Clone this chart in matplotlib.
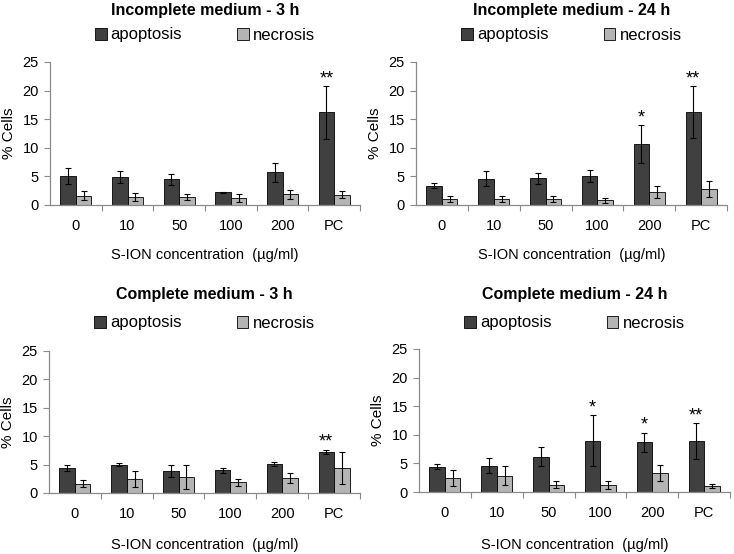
import matplotlib
matplotlib.use("Agg")
import matplotlib.pyplot as plt
from matplotlib.patches import Patch
import numpy as np

plt.rcParams['font.family'] = ['Liberation Sans', 'DejaVu Sans']

categories = ["0", "10", "50", "100", "200", "PC"]
series_names = ["apoptosis", "necrosis"]
titles = ["Incomplete medium - 3 h", "Incomplete medium - 24 h",
          "Complete medium - 3 h", "Complete medium - 24 h"]

# Incomplete medium - 3 h
inc3_apop = [5.1, 4.9, 4.5, 2.2, 5.7, 16.2]
inc3_apop_err = [1.45, 1.1, 1.0, 0.1, 1.7, 4.6]
inc3_nec = [1.6, 1.4, 1.4, 1.15, 1.85, 1.8]
inc3_nec_err = [0.8, 0.75, 0.6, 0.7, 0.8, 0.65]
inc3_stars = ["", "", "", "", "", "**"]

# Incomplete medium - 24 h
inc24_apop = [3.4, 4.6, 4.7, 5.1, 10.6, 16.3]
inc24_apop_err = [0.4, 1.35, 0.95, 1.05, 3.3, 4.5]
inc24_nec = [1.05, 1.05, 1.0, 0.8, 2.2, 2.8]
inc24_nec_err = [0.55, 0.55, 0.5, 0.5, 1.05, 1.35]
inc24_stars = ["", "", "", "", "*", "**"]

# Complete medium - 3 h
com3_apop = [4.4, 5.0, 3.9, 4.0, 5.1, 7.2]
com3_apop_err = [0.45, 0.3, 1.0, 0.45, 0.4, 0.4]
com3_nec = [1.65, 2.45, 2.8, 1.9, 2.7, 4.45]
com3_nec_err = [0.6, 1.4, 2.05, 0.65, 0.9, 2.8]
com3_stars = ["", "", "", "", "", "**"]

# Complete medium - 24 h
com24_apop = [4.45, 4.6, 6.2, 9.0, 8.7, 8.9]
com24_apop_err = [0.4, 1.3, 1.65, 4.4, 1.65, 3.1]
com24_nec = [2.45, 2.85, 1.3, 1.2, 3.35, 1.0]
com24_nec_err = [1.45, 1.7, 0.65, 0.7, 1.45, 0.35]
com24_stars = ["", "", "", "*", "*", "**"]

panels = [
    (inc3_apop, inc3_apop_err, inc3_nec, inc3_nec_err, inc3_stars),
    (inc24_apop, inc24_apop_err, inc24_nec, inc24_nec_err, inc24_stars),
    (com3_apop, com3_apop_err, com3_nec, com3_nec_err, com3_stars),
    (com24_apop, com24_apop_err, com24_nec, com24_nec_err, com24_stars),
]

W, H = 734, 554
fig = plt.figure(figsize=(W / 100, H / 100), dpi=100)

# axes boxes in pixels: left, right, y0 (bottom), ytop
boxes = [
    (50, 360, 205, 62),
    (416, 727, 205, 62),
    (49, 360, 493, 351),
    (419, 730, 492, 349),
]
title_y = [10, 10, 295, 295]
legend_y = [35, 35, 323, 323]
xlabel_y = [255, 255, 545, 545]

dark = "#404040"
light = "#b4b4b4"
spine_c = "#8a8a8a"

for i, (box, data) in enumerate(zip(boxes, panels)):
    l, r, y0, yt = box
    ax = fig.add_axes([l / W, 1 - y0 / H, (r - l) / W, (y0 - yt) / H])
    apop, apop_err, nec, nec_err, stars = data
    x = np.arange(len(categories))
    bw = 0.3
    ax.bar(x - bw / 2, apop, bw, color=dark, edgecolor="black", linewidth=0.6,
           yerr=apop_err, error_kw=dict(ecolor="black", elinewidth=0.8, capsize=2, capthick=0.8))
    ax.bar(x + bw / 2, nec, bw, color=light, edgecolor="black", linewidth=0.6,
           yerr=nec_err, error_kw=dict(ecolor="black", elinewidth=0.8, capsize=2, capthick=0.8))
    for xi, a, e, s in zip(x, apop, apop_err, stars):
        if s:
            ax.text(xi - bw / 2, a + e - 0.2, s, ha="center", va="bottom", fontsize=13)
    ax.set_xlim(-0.5, len(categories) - 0.5)
    ax.set_ylim(0, 25)
    ax.set_yticks([0, 5, 10, 15, 20, 25])
    ax.set_xticks(x)
    ax.set_xticklabels(categories)
    ax.set_xticks(np.arange(0.5, len(categories), 1.0), minor=True)
    ax.tick_params(axis="x", which="major", length=0, pad=10, labelsize=10.5)
    ax.tick_params(axis="x", which="minor", length=4, width=0.8, color=spine_c)
    ax.tick_params(axis="y", which="major", length=4, width=0.8, color=spine_c, labelsize=10.5, pad=4)
    for sp in ["top", "right"]:
        ax.spines[sp].set_visible(False)
    for sp in ["left", "bottom"]:
        ax.spines[sp].set_color(spine_c)
        ax.spines[sp].set_linewidth(0.9)
    ax.set_ylabel("% Cells", fontsize=11, labelpad=5)
    cx = (l + r) / 2 / W
    fig.text(cx, 1 - title_y[i] / H, titles[i], ha="center", va="center",
             fontsize=11.5, fontweight="bold")
    fig.text(cx, 1 - xlabel_y[i] / H, "S-ION concentration  (µg/ml)", ha="center",
             va="center", fontsize=10.5)
    handles = [Patch(facecolor=dark, edgecolor="black", linewidth=0.6),
               Patch(facecolor=light, edgecolor="black", linewidth=0.6)]
    fig.legend(handles, series_names, loc="center", ncol=2,
               bbox_to_anchor=(cx, 1 - legend_y[i] / H), frameon=False,
               fontsize=12, handlelength=0.7, handleheight=0.7, handletextpad=0.25,
               columnspacing=3.3, borderpad=0)

fig.savefig("out.png", dpi=100, facecolor="white")
